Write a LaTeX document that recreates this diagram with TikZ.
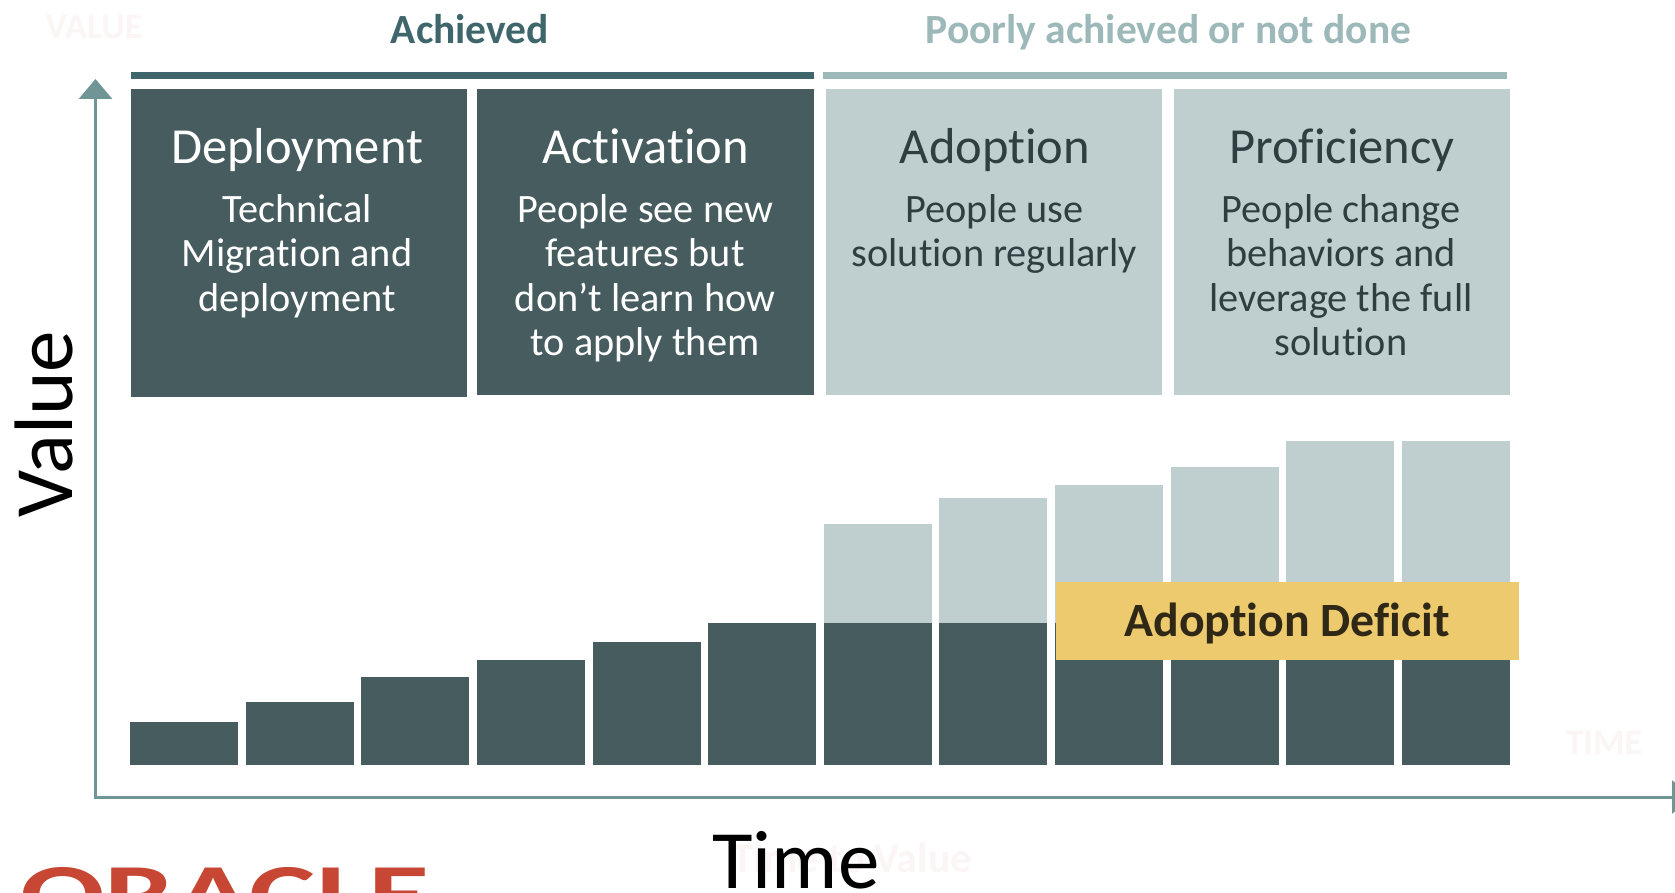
\documentclass[tikz,border=0pt]{standalone}
\usepackage{xcolor}
\usepackage{fontspec}
\usepackage{tikz}
\usetikzlibrary{arrows.meta}
\setmainfont{Carlito}[Ligatures=CommonOff]
\definecolor{darkbar}{HTML}{465C5E}
\definecolor{lightbar}{HTML}{BFCFCF}
\definecolor{rulegreen}{HTML}{3F666B}
\definecolor{rulepale}{HTML}{9DB8B8}
\definecolor{axisgreen}{HTML}{6F9594}
\definecolor{deficit}{HTML}{EECA6E}
\definecolor{inkdark}{HTML}{2F3E40}
\definecolor{oraclered}{HTML}{C74634}
\definecolor{ghost}{HTML}{FBF6F5}
\tikzset{
  axisline/.style={draw=axisgreen, line width=3pt, -{Triangle[length=20pt,width=33pt]}},
  phasebox/.style={anchor=north west, inner sep=0pt},
  phasetitle/.style={anchor=base, inner sep=0pt, font=\fontsize{50.5}{50.5}\selectfont},
  phasebody/.style={anchor=north, inner sep=0pt, align=center, font=\fontsize{40.3}{44.5}\selectfont},
  heading/.style={anchor=base, inner sep=0pt, font=\fontsize{41.5}{41.5}\selectfont\bfseries},
  axislabel/.style={inner sep=0pt, text=black, font=\fontsize{83}{83}\selectfont},
  ghosttext/.style={inner sep=0pt, text=ghost, font=\fontsize{36}{36}\selectfont\bfseries}
}
\begin{document}
\begin{tikzpicture}[x=1pt,y=-1pt]
                \useasboundingbox (0,0) rectangle (1675,893);
                \clip (0,0) rectangle (1675,893);
                \fill[white] (0,0) rectangle (1675,893);
                % faint leftovers
                \node[ghosttext] (ghostvalue) at (94,27) {VALUE};
                \node[ghosttext] (ghosttime) at (1604,743) {TIME};
                \node[ghosttext, font=\fontsize{42}{42}\selectfont\bfseries] (ghostttv) at (852,858) {Time to Value};
                % headings and rules
                \node[heading, text=rulegreen] (achieved) at (470,44) {Achieved};
                \node[heading, text=rulepale] (poorly) at (1168.5,44) {Poorly achieved or not done};
                \fill[rulegreen] (130.5,72) rectangle (813.5,79);
                \fill[rulepale] (823,72) rectangle (1507,79);
                % phase boxes
                \node[phasebox, fill=darkbar, minimum width=336.5pt, minimum height=308pt] (deployment) at (130.5,88.5) {};
                \node[phasebox, fill=darkbar, minimum width=336.5pt, minimum height=306pt] (activation) at (477,88.5) {};
                \node[phasebox, fill=lightbar, minimum width=336pt, minimum height=306pt] (adoption) at (826,88.5) {};
                \node[phasebox, fill=lightbar, minimum width=336pt, minimum height=306pt] (proficiency) at (1174,88.5) {};
                \node[phasetitle, text=white] (deploymentname) at (297,163.5) {Deployment};
                \node[phasetitle, text=white] (activationname) at (645.5,163.5) {Activation};
                \node[phasetitle, text=inkdark] (adoptionname) at (995,163.5) {Adoption};
                \node[phasetitle, text=inkdark] (proficiencyname) at (1342,163.5) {Proficiency};
                \node[phasebody, text=white] (deploymenttext) at (297,194) {Technical\\Migration and\\deployment};
                \node[phasebody, text=white] (activationtext) at (645,194) {People see new\\features but\\don’t learn how\\to apply them};
                \node[phasebody, text=inkdark] (adoptiontext) at (994.5,194) {People use\\solution regularly};
                \node[phasebody, text=inkdark] (proficiencytext) at (1341,194) {People change\\behaviors and\\leverage the full\\solution};
                % bars
                \foreach \i/\dtop/\ltop in {0/722/722,1/702/702,2/677/677,3/660/660,4/642/642,5/623/623,6/623/523.5,7/623/497.5,8/623/484.5,9/623/467,10/623/441,11/623/441}{
                    \fill[lightbar] ({130.2+115.6*\i},\ltop) rectangle ({238.2+115.6*\i},\dtop);
                    \fill[darkbar] ({130.2+115.6*\i},\dtop) rectangle ({238.2+115.6*\i},765);
                }
                % deficit banner
                \node[anchor=north west, inner sep=0pt, fill=deficit, minimum width=463pt, minimum height=78pt] (banner) at (1056,582) {};
                \node[anchor=base, inner sep=0pt, text=black!80!deficit, font=\fontsize{47.8}{47.8}\selectfont\bfseries] (deficitname) at (1287,636) {Adoption Deficit};
                % axes
                \coordinate (origin) at (95.5,797);
                \coordinate (ytip) at (95.5,79);
                \coordinate (xtip) at (1692,797);
                \draw[axisline] (95.5,799) -- (ytip);
                \draw[axisline] (origin) -- (xtip);
                \node[axislabel, rotate=90, anchor=base] (valuelabel) at (72,424) {Value};
                \node[axislabel, anchor=base] (timelabel) at (796,888) {Time};
                % logo, cut by the page edge
                \node[anchor=base west, inner sep=0pt, text=oraclered, font=\fontsize{84}{84}\selectfont\bfseries, xscale=1.49] (oracle) at (20,922) {ORACLE};
\end{tikzpicture}
\end{document}
